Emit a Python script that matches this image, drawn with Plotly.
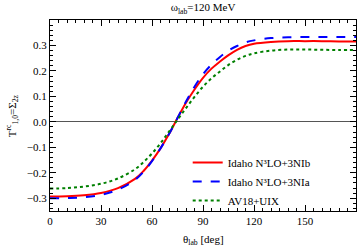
import plotly.graph_objects as go

theta = [0, 10, 20, 30, 40, 50, 55, 60, 65, 70, 75, 80, 85, 90, 95, 100, 105,
         110, 115, 120, 130, 140, 150, 160, 170, 180]
red = [-0.293, -0.292, -0.288, -0.279, -0.260, -0.224, -0.193, -0.152, -0.104,
       -0.048, 0.015, 0.075, 0.127, 0.173, 0.209, 0.237, 0.262, 0.283, 0.298,
       0.307, 0.314, 0.317, 0.317, 0.317, 0.316, 0.316]
blue = [-0.300, -0.299, -0.296, -0.287, -0.266, -0.228, -0.196, -0.154, -0.104,
        -0.048, 0.015, 0.080, 0.138, 0.187, 0.225, 0.255, 0.280, 0.298, 0.312,
        0.320, 0.329, 0.332, 0.333, 0.333, 0.333, 0.333]
green = [-0.262, -0.260, -0.254, -0.243, -0.222, -0.186, -0.158, -0.124, -0.084,
         -0.038, 0.008, 0.054, 0.098, 0.138, 0.171, 0.198, 0.224, 0.244, 0.259,
         0.269, 0.280, 0.284, 0.284, 0.283, 0.282, 0.282]
names = ["Idaho N³LO+3NIb", "Idaho N³LO+3NIa", "AV18+UIX"]
y_ticks = [-0.3, -0.2, -0.1, 0.0, 0.1, 0.2, 0.3]
y_ticklabels = ["−0.3", "−0.2", "−0.1", "0.0", "0.1", "0.2", "0.3"]

FONT = "Times New Roman, Liberation Serif, DejaVu Serif, serif"
fig = go.Figure()
fig.add_trace(go.Scatter(x=theta, y=red, mode="lines", name=names[0],
                         line=dict(color="red", width=2, shape="spline")))
fig.add_trace(go.Scatter(x=theta, y=blue, mode="lines", name=names[1],
                         line=dict(color="blue", width=2, dash="dash", shape="spline")))
fig.add_trace(go.Scatter(x=theta, y=green, mode="lines", name=names[2],
                         line=dict(color="green", width=2, dash="dot", shape="spline")))

axis_common = dict(showline=True, linecolor="black", linewidth=1, mirror="ticks",
                   ticks="inside", ticklen=6, tickcolor="black", showgrid=False,
                   tickfont=dict(family=FONT, size=11, color="black"))
fig.update_xaxes(range=[0, 180], dtick=30, tick0=0, zeroline=False,
                 minor=dict(ticks="inside", dtick=5, ticklen=3, tickcolor="black"),
                 **axis_common)
fig.update_yaxes(range=[-0.35, 0.4], tickvals=y_ticks, ticktext=y_ticklabels,
                 zeroline=True, zerolinecolor="#555", zerolinewidth=1,
                 minor=dict(ticks="inside", tickvals=[round(-0.34 + 0.02 * i, 2) for i in range(38)],
                            ticklen=3, tickcolor="black"),
                 **axis_common)
fig.update_layout(
    width=359, height=249,
    margin=dict(l=50, r=3, t=20, b=38),
    paper_bgcolor="white", plot_bgcolor="white",
    font=dict(family=FONT, size=11, color="black"),
    title=dict(text="ω<sub>lab</sub>=120 MeV", x=0.5, xref="paper", xanchor="center",
               y=0.97, yanchor="middle", font=dict(family=FONT, size=11)),
    legend=dict(x=0.45, y=0.33, xanchor="left", yanchor="top", bgcolor="rgba(0,0,0,0)",
                font=dict(family=FONT, size=11), tracegroupgap=0, itemwidth=30),
    annotations=[
        dict(text="θ<sub>lab</sub> [deg]", xref="paper", yref="paper", x=0.5, y=-0.15,
             xanchor="center", yanchor="middle", showarrow=False,
             font=dict(family=FONT, size=11)),
        dict(text="T<sup>rc</sup><sub>1,0</sub>=Σ<sub>2z</sub>", xref="paper", yref="paper",
             x=-0.125, y=0.5, xanchor="center", yanchor="middle", textangle=-90,
             showarrow=False, font=dict(family=FONT, size=11)),
    ],
)
fig.write_html("out.html", config={"displayModeBar": False},
               post_script="document.body.style.margin='0px';document.body.style.overflow='hidden';")
